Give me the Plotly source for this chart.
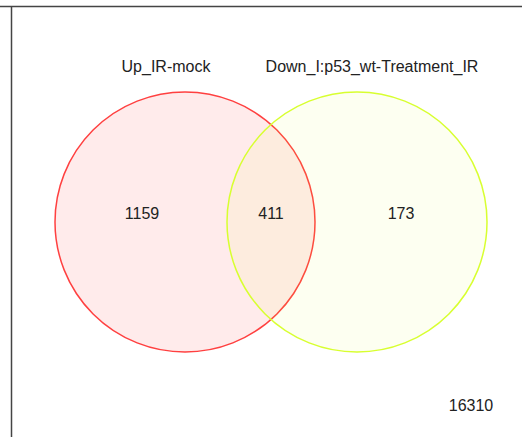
import plotly.graph_objects as go

# Set names and region counts
set_names = ["Up_IR-mock", "Down_I:p53_wt-Treatment_IR"]
only_counts = [1159, 173]
shared_count = 411
outside_count = 16310

W, H = 522, 437

# Circle geometry (pixel-space axes)
circles = [
    dict(cx=185, cy=222, r=130, line="#ff4040", fill="rgba(255,60,60,0.10)"),
    dict(cx=357, cy=222, r=130, line="#d8ff30", fill="rgba(220,255,60,0.07)"),
]

fig = go.Figure()

shapes = []
for c in circles:
    shapes.append(dict(
        type="circle", xref="x", yref="y",
        x0=c["cx"] - c["r"], x1=c["cx"] + c["r"],
        y0=c["cy"] - c["r"], y1=c["cy"] + c["r"],
        line=dict(color=c["line"], width=1.5),
        fillcolor=c["fill"], layer="below",
    ))

# Frame lines along the top and left edges
shapes.append(dict(type="line", xref="x", yref="y", x0=0, x1=W, y0=6.5, y1=6.5,
                   line=dict(color="#444444", width=1.5)))
shapes.append(dict(type="line", xref="x", yref="y", x0=11.5, x1=11.5, y0=6.5, y1=H,
                   line=dict(color="#444444", width=1.5)))

label_x = [166, 372]
label_y = [68, 68]
count_x = [142, 271, 401, 471]
count_y = [215, 215, 215, 407]
count_text = [str(only_counts[0]), str(shared_count), str(only_counts[1]), str(outside_count)]

fig.add_trace(go.Scatter(
    x=label_x, y=label_y, mode="text", text=set_names,
    textfont=dict(family="Liberation Sans, Arial, sans-serif", size=16, color="#222222"),
    hoverinfo="skip", showlegend=False,
))
fig.add_trace(go.Scatter(
    x=count_x, y=count_y, mode="text", text=count_text,
    textfont=dict(family="Liberation Sans, Arial, sans-serif", size=16, color="#222222"),
    hoverinfo="skip", showlegend=False,
))

fig.update_layout(
    width=W, height=H,
    margin=dict(l=0, r=0, t=0, b=0),
    paper_bgcolor="white", plot_bgcolor="white",
    shapes=shapes,
    xaxis=dict(range=[0, W], visible=False, fixedrange=True),
    yaxis=dict(range=[H, 0], visible=False, fixedrange=True),
    showlegend=False,
)

fig.write_html("out.html")
